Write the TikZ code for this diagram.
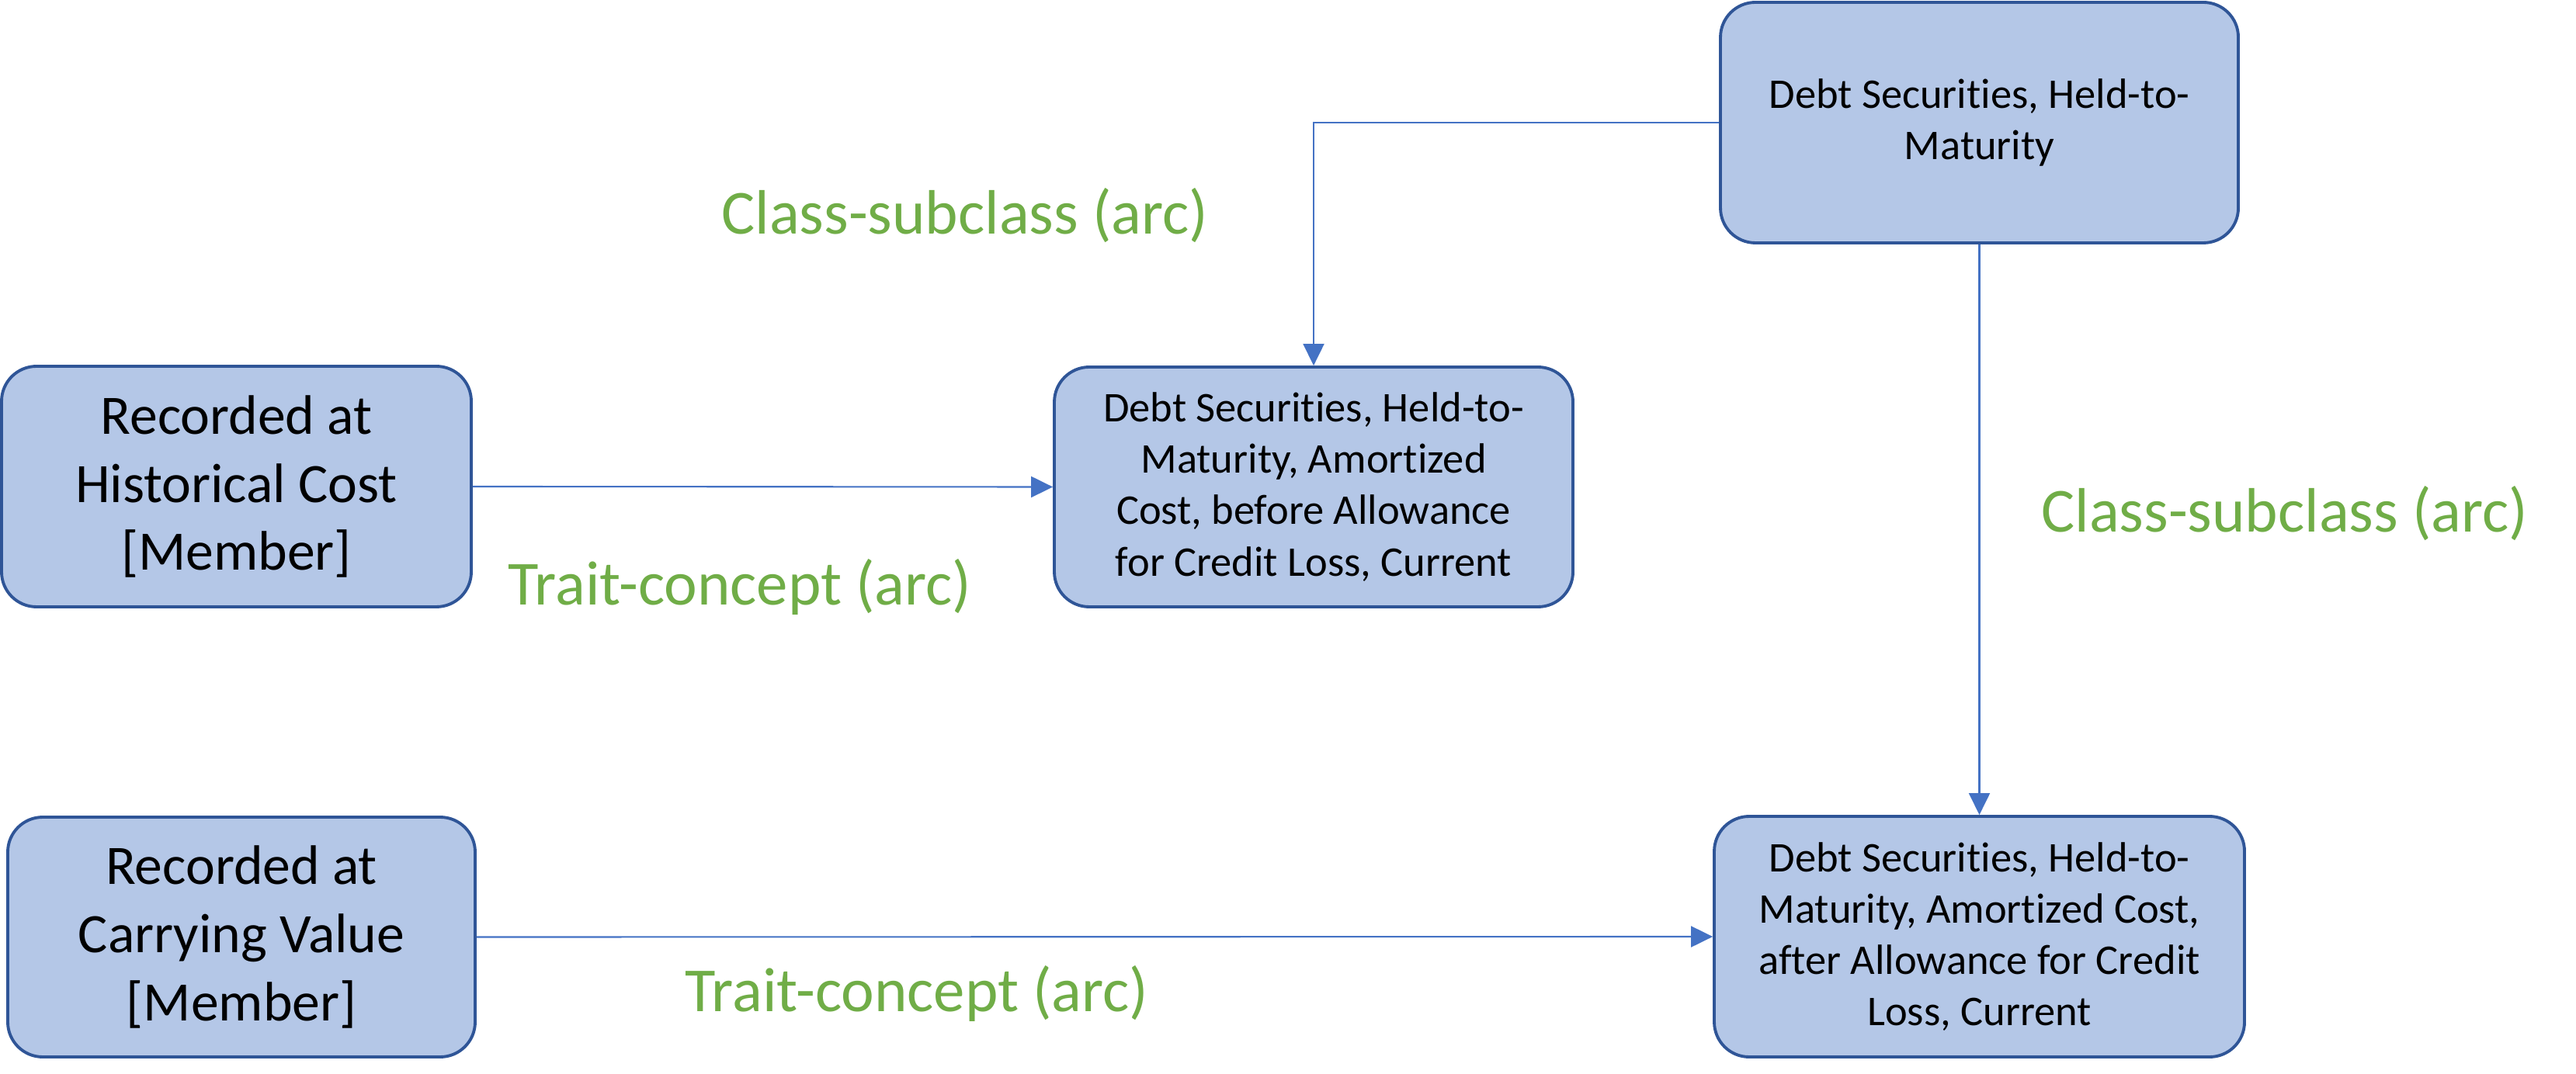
\documentclass[tikz,border=0pt]{standalone}
\usepackage{fontspec}
\setmainfont{Carlito}[Ligatures={NoCommon}]
\usetikzlibrary{arrows.meta}
\definecolor{boxfill}{HTML}{B4C7E7}
\definecolor{boxline}{HTML}{2F5597}
\definecolor{arrowblue}{HTML}{4472C4}
\definecolor{labelgreen}{HTML}{70AD47}
\begin{document}
\begin{tikzpicture}[x=1cm,y=1cm,
  box/.style={draw=boxline, fill=boxfill, line width=1.1pt, rounded corners=0.45cm,
    align=center, inner sep=0pt, text=black},
  bigbox/.style={box, font=\fontsize{20.4}{25}\selectfont},
  smallbox/.style={box, font=\fontsize{15.5}{18.8}\selectfont},
  arc/.style={draw=arrowblue, line width=0.6pt, -{Triangle[length=2.8mm,width=2.7mm]}},
  lbl/.style={text=labelgreen, font=\fontsize{23}{28}\selectfont, anchor=base, inner sep=0pt}]
\useasboundingbox (0,0) rectangle (33.18,-13.84);

\node[bigbox, minimum width=6.05cm, minimum height=3.10cm] (hist) at (3.045,-6.27)
  {\raisebox{-0.5mm}{\parbox{6cm}{\centering Recorded at\\Historical Cost\\{[}Member{]}}}};
\node[bigbox, minimum width=6.02cm, minimum height=3.09cm] (carry) at (3.11,-12.075)
  {\raisebox{-0.5mm}{\parbox{6cm}{\centering Recorded at\\Carrying Value\\{[}Member{]}}}};
\node[smallbox, minimum width=6.68cm, minimum height=3.09cm] (before) at (16.92,-6.275)
  {Debt Securities, Held-to-\\Maturity, Amortized\\Cost, before Allowance\\for Credit Loss, Current};
\node[smallbox, minimum width=6.67cm, minimum height=3.10cm] (htm) at (25.495,-1.58)
  {Debt Securities, Held-to-\\Maturity};
\node[smallbox, minimum width=6.83cm, minimum height=3.10cm] (after) at (25.495,-12.07)
  {Debt Securities, Held-to-\\Maturity, Amortized Cost,\\after Allowance for Credit\\Loss, Current};

\draw[arc] (hist.east) -- (before.west);
\draw[arc] (carry.east) -- (after.west);
\draw[arc] (htm.west) -| (before.north);
\draw[arc] (htm.south) -- (after.north);

\node[lbl] (l1) at (12.43,-3.02) {Class-subclass (arc)};
\node[lbl] (l2) at (9.53,-7.80) {Trait-concept (arc)};
\node[lbl] (l3) at (29.43,-6.86) {Class-subclass (arc)};
\node[lbl] (l4) at (11.81,-13.03) {Trait-concept (arc)};
\end{tikzpicture}
\end{document}
